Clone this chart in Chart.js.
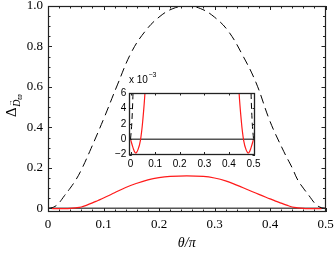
<!DOCTYPE html>
<html>
<head>
<meta charset="utf-8">
<script src="https://cdn.jsdelivr.net/npm/chart.js@4.4.1/dist/chart.umd.min.js"></script>
<style>
html, body { margin: 0; padding: 0; background: #fff; }
#wrap { position: relative; width: 335px; height: 256px; }
#mainCanvas { position: absolute; left: 0; top: 0; }
#insetCanvas { position: absolute; left: 100px; top: 64px; }
</style>
</head>
<body>
<div id="wrap">
<canvas id="mainCanvas" width="335" height="256"></canvas>
<canvas id="insetCanvas" width="165" height="112"></canvas>
</div>
<script>
// dashed black curve
var thetaDashed = [0, 0.005, 0.01, 0.015, 0.02, 0.025, 0.03, 0.04, 0.05, 0.06, 0.075, 0.1, 0.125, 0.15, 0.175, 0.2, 0.225, 0.25,
    0.275, 0.3, 0.325, 0.35, 0.375, 0.4, 0.425, 0.44, 0.45, 0.46, 0.47, 0.475, 0.48, 0.485, 0.49, 0.495, 0.5];
var dashedValues = [0, 0.002, 0.006, 0.014, 0.027, 0.045, 0.064, 0.1, 0.14, 0.19, 0.28, 0.44, 0.61, 0.77, 0.875, 0.945, 0.987, 1.0,
    0.987, 0.945, 0.875, 0.76, 0.62, 0.43, 0.28, 0.2, 0.14, 0.1, 0.064, 0.045, 0.027, 0.014, 0.006, 0.002, 0];

// red curve
var thetaRed = [0, 0.01, 0.02, 0.03, 0.04, 0.05, 0.06, 0.07, 0.08, 0.09, 0.1, 0.12, 0.14, 0.16, 0.18, 0.2, 0.22, 0.25,
    0.28, 0.3, 0.32, 0.34, 0.36, 0.38, 0.4, 0.41, 0.42, 0.43, 0.44, 0.45, 0.46, 0.47, 0.48, 0.49, 0.5];
var redValues = [0, -0.0011, -0.0018, -0.0014, -0.0002, 0.0025, 0.0068, 0.016, 0.027, 0.039, 0.051, 0.077, 0.103, 0.124, 0.141, 0.152, 0.158, 0.161,
    0.158, 0.15, 0.136, 0.115, 0.092, 0.069, 0.047, 0.036, 0.026, 0.016, 0.0068, 0.0025, -0.0002, -0.0014, -0.0018, -0.0011, 0];

// zero reference line
var thetaZero = [0, 0.5];
var zeroValues = [0, 0];

var xTickValues = [0, 0.1, 0.2, 0.3, 0.4, 0.5];
var xTickLabels = ['0', '0.1', '0.2', '0.3', '0.4', '0.5'];
var yTickValues = [0, 0.2, 0.4, 0.6, 0.8, 1.0];
var yTickLabels = ['0', '0.2', '0.4', '0.6', '0.8', '1.0'];

var insetXTickValues = [0, 0.1, 0.2, 0.3, 0.4, 0.5];
var insetXTickLabels = ['0', '0.1', '0.2', '0.3', '0.4', '0.5'];
var insetYTickValues = [-0.002, 0, 0.002, 0.004, 0.006];
var insetYTickLabels = ['\u22122', '0', '2', '4', '6'];

function toPoints(xs, ys) {
    var pts = [];
    for (var i = 0; i < xs.length; i++) {
        pts.push({ x: xs[i], y: ys[i] });
    }
    return pts;
}

function makeDatasets(dash) {
    return [{
        data: toPoints(thetaRed, redValues),
        borderColor: '#ff1a1a',
        borderWidth: 1.2,
        pointRadius: 0,
        tension: 0.4
    }, {
        data: toPoints(thetaDashed, dashedValues),
        borderColor: '#000',
        borderWidth: 1,
        borderDash: dash,
        pointRadius: 0,
        tension: 0.4
    }, {
        data: toPoints(thetaZero, zeroValues),
        borderColor: '#555',
        borderWidth: 1.5,
        pointRadius: 0
    }];
}

// frame and inward ticks on all four sides
function drawFrame(chart, o) {
    var ctx = chart.ctx, a = chart.chartArea, xs = chart.scales.x, ys = chart.scales.y;
    var v, px, len;
    ctx.save();
    ctx.strokeStyle = o.color;
    ctx.lineWidth = 1;
    ctx.beginPath();
    for (v = o.xFrom; v <= o.xTo + 1e-9; v += o.xStep) {
        px = Math.round(xs.getPixelForValue(v)) + 0.5;
        len = Math.abs(v / o.xMajor - Math.round(v / o.xMajor)) < 1e-6 ? o.major : o.minor;
        ctx.moveTo(px, a.bottom); ctx.lineTo(px, a.bottom - len);
        ctx.moveTo(px, a.top); ctx.lineTo(px, a.top + len);
    }
    for (v = o.yFrom; v <= o.yTo + 1e-9; v += o.yStep) {
        px = Math.round(ys.getPixelForValue(v)) + 0.5;
        len = Math.abs(v / o.yMajor - Math.round(v / o.yMajor)) < 1e-6 ? o.major : o.minor;
        ctx.moveTo(a.left, px); ctx.lineTo(a.left + len, px);
        ctx.moveTo(a.right, px); ctx.lineTo(a.right - len, px);
    }
    ctx.stroke();
    ctx.lineWidth = o.frameWidth;
    ctx.strokeRect(Math.round(a.left) + 0.5, Math.round(a.top) + 0.5,
        Math.round(a.right) - Math.round(a.left) - 1, Math.round(a.bottom) - Math.round(a.top) - 1);
    ctx.restore();
}

function drawTickLabels(chart, o) {
    var ctx = chart.ctx, a = chart.chartArea, xs = chart.scales.x, ys = chart.scales.y;
    var i;
    ctx.save();
    ctx.fillStyle = '#000';
    ctx.font = o.font;
    ctx.textBaseline = 'middle';
    ctx.textAlign = 'center';
    for (i = 0; i < o.xValues.length; i++) {
        ctx.fillText(o.xLabels[i], xs.getPixelForValue(o.xValues[i]), a.bottom + o.xGap);
    }
    ctx.textAlign = 'right';
    for (i = 0; i < o.yValues.length; i++) {
        ctx.fillText(o.yLabels[i], a.left - o.yGap, ys.getPixelForValue(o.yValues[i]));
    }
    ctx.restore();
}

var mainPlugin = {
    id: 'mainDecor',
    afterDraw: function(chart) {
        drawFrame(chart, { color: '#222', frameWidth: 1.2, major: 4, minor: 2.5,
            xFrom: 0, xTo: 0.5, xStep: 0.02, xMajor: 0.1,
            yFrom: 0, yTo: 1.0, yStep: 0.05, yMajor: 0.2 });
        drawTickLabels(chart, { font: '13px "Liberation Serif"', xGap: 13, yGap: 5,
            xValues: xTickValues, xLabels: xTickLabels, yValues: yTickValues, yLabels: yTickLabels });
        var ctx = chart.ctx, a = chart.chartArea;
        ctx.save();
        ctx.fillStyle = '#000';
        // x title
        ctx.font = 'italic 14px "Liberation Serif"';
        ctx.textAlign = 'center';
        ctx.textBaseline = 'middle';
        ctx.fillText('\u03b8/\u03c0', (a.left + a.right) / 2, 243);
        // y title
        ctx.translate(12, 117);
        ctx.rotate(-Math.PI / 2);
        ctx.textAlign = 'left';
        ctx.textBaseline = 'alphabetic';
        ctx.font = '15px "Liberation Serif"';
        ctx.fillText('\u0394', 0, 4);
        var w = ctx.measureText('\u0394').width;
        ctx.font = 'italic 10px "Liberation Serif"';
        ctx.fillText('D', w + 0.5, 8);
        var wd = ctx.measureText('D').width;
        ctx.font = '7px "Liberation Serif"';
        ctx.fillText('\u2192', w + 1, 0);
        ctx.font = 'italic 8px "Liberation Serif"';
        ctx.fillText('\u03d6', w + wd + 0.5, 10);
        ctx.restore();
    }
};

var insetPlugin = {
    id: 'insetDecor',
    beforeDatasetsDraw: function(chart) {
        var ctx = chart.ctx, a = chart.chartArea;
        ctx.save();
        ctx.fillStyle = '#fff';
        ctx.fillRect(a.left, a.top, a.right - a.left, a.bottom - a.top);
        ctx.restore();
    },
    afterDraw: function(chart) {
        drawFrame(chart, { color: '#222', frameWidth: 1.3, major: 2.5, minor: 2.5,
            xFrom: 0, xTo: 0.5, xStep: 0.1, xMajor: 0.1,
            yFrom: -0.002, yTo: 0.006, yStep: 0.002, yMajor: 0.002 });
        drawTickLabels(chart, { font: '10px "Liberation Sans"', xGap: 10, yGap: 3,
            xValues: insetXTickValues, xLabels: insetXTickLabels, yValues: insetYTickValues, yLabels: insetYTickLabels });
        var ctx = chart.ctx;
        ctx.save();
        ctx.fillStyle = '#000';
        ctx.textBaseline = 'middle';
        ctx.font = '10px "Liberation Sans"';
        ctx.fillText('x 10', 29, 16);
        var w = ctx.measureText('x 10').width;
        ctx.font = '7px "Liberation Sans"';
        ctx.fillText('\u22123', 29 + w + 0.5, 11);
        ctx.restore();
    }
};

function axisOptions(min, max, fit) {
    return {
        type: 'linear', min: min, max: max,
        grid: { display: false, drawTicks: false }, border: { display: false },
        ticks: { display: false },
        afterFit: fit
    };
}

new Chart(document.getElementById('mainCanvas'), {
    type: 'line',
    data: { datasets: makeDatasets([9, 5]) },
    options: {
        responsive: false,
        animation: false,
        layout: { padding: { top: 6, right: 9.5, left: 0, bottom: 0 } },
        plugins: { legend: { display: false }, tooltip: { enabled: false } },
        scales: {
            x: axisOptions(0, 0.5, function(s) { s.height = 44; }),
            y: axisOptions(-0.018, 1.0, function(s) { s.width = 48; })
        }
    },
    plugins: [mainPlugin]
});

new Chart(document.getElementById('insetCanvas'), {
    type: 'line',
    data: { datasets: makeDatasets([6, 4]) },
    options: {
        responsive: false,
        animation: false,
        layout: { padding: { top: 29, right: 10, left: 0, bottom: 0 } },
        plugins: { legend: { display: false }, tooltip: { enabled: false } },
        scales: {
            x: axisOptions(-0.005, 0.506, function(s) { s.height = 21.5; }),
            y: axisOptions(-0.002, 0.006, function(s) { s.width = 29.3; })
        }
    },
    plugins: [insetPlugin]
});
</script>
</body>
</html>
